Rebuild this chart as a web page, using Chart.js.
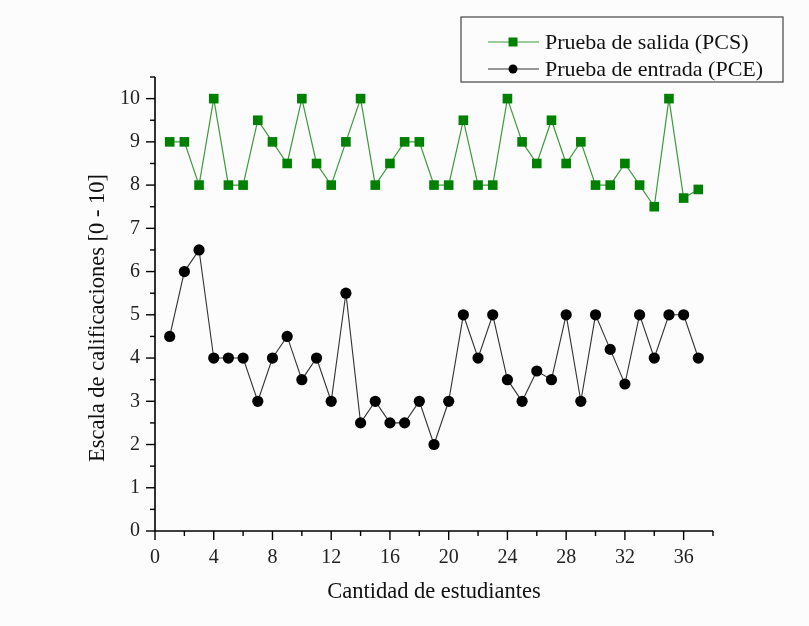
<!DOCTYPE html>
<html>
<head>
<meta charset="utf-8">
<script src="https://cdn.jsdelivr.net/npm/chart.js@4/dist/chart.umd.min.js"></script>
<style>
  html, body { margin: 0; padding: 0; background: #fcfcfc; }
  #wrap { width: 809px; height: 626px; }
</style>
</head>
<body>
<div id="wrap"><canvas id="grafico" width="809" height="626"></canvas></div>
<script>
const estudiantes = [1, 2, 3, 4, 5, 6, 7, 8, 9, 10, 11, 12, 13, 14, 15, 16, 17, 18, 19,
  20, 21, 22, 23, 24, 25, 26, 27, 28, 29, 30, 31, 32, 33, 34, 35, 36, 37];
const pcs = [9, 9, 8, 10, 8, 8, 9.5, 9, 8.5, 10, 8.5, 8, 9, 10, 8, 8.5, 9, 9, 8,
  8, 9.5, 8, 8, 10, 9, 8.5, 9.5, 8.5, 9, 8, 8, 8.5, 8, 7.5, 10, 7.7, 7.9];
const pce = [4.5, 6, 6.5, 4, 4, 4, 3, 4, 4.5, 3.5, 4, 3, 5.5, 2.5, 3, 2.5, 2.5, 3, 2,
  3, 5, 4, 5, 3.5, 3, 3.7, 3.5, 5, 3, 5, 4.2, 3.4, 5, 4, 5, 5, 4];
const xMajor = 4;
const yMajor = 1;
const tituloY = "Escala de calificaciones [0 - 10]";

const fuente = "'Liberation Serif', 'Times New Roman', serif";

const fondo = {
  id: "fondo",
  beforeDraw(chart) {
    const ctx = chart.ctx;
    ctx.save();
    ctx.fillStyle = "#fcfcfc";
    ctx.fillRect(0, 0, chart.width, chart.height);
    ctx.restore();
  }
};

// ejes con marcas mayores y menores, y titulo vertical
const ejes = {
  id: "ejes",
  afterDraw(chart) {
    const { ctx, chartArea: a, scales: { x, y } } = chart;
    ctx.save();
    ctx.strokeStyle = "#000";
    ctx.lineWidth = 1.6;
    ctx.beginPath();
    ctx.moveTo(a.left, a.top);
    ctx.lineTo(a.left, a.bottom);
    ctx.lineTo(a.right, a.bottom);
    ctx.stroke();
    ctx.lineWidth = 1.4;
    x.ticks.forEach(t => {
      const px = x.getPixelForValue(t.value);
      const len = t.value % xMajor === 0 ? 9 : 5;
      ctx.beginPath();
      ctx.moveTo(px, a.bottom);
      ctx.lineTo(px, a.bottom + len);
      ctx.stroke();
    });
    y.ticks.forEach(t => {
      const py = y.getPixelForValue(t.value);
      const len = t.value % yMajor === 0 ? 9 : 5;
      ctx.beginPath();
      ctx.moveTo(a.left, py);
      ctx.lineTo(a.left - len, py);
      ctx.stroke();
    });
    ctx.translate(98, 318);
    ctx.rotate(-Math.PI / 2);
    ctx.font = "22.5px " + fuente;
    ctx.fillStyle = "#111";
    ctx.textAlign = "center";
    ctx.textBaseline = "middle";
    ctx.fillText(tituloY, 0, 0);
    ctx.restore();
  }
};

const leyenda = {
  id: "leyenda",
  afterDraw(chart) {
    const ctx = chart.ctx;
    const box = { x: 461, y: 17, w: 322, h: 65 };
    ctx.save();
    ctx.fillStyle = "#fcfcfc";
    ctx.fillRect(box.x, box.y, box.w, box.h);
    ctx.strokeStyle = "#444";
    ctx.lineWidth = 1.2;
    ctx.strokeRect(box.x, box.y, box.w, box.h);
    ctx.font = "22px " + fuente;
    ctx.textBaseline = "middle";
    const filas = [42, 69];
    chart.data.datasets.forEach((ds, i) => {
      const yy = filas[i];
      ctx.strokeStyle = ds.borderColor;
      ctx.lineWidth = ds.borderWidth;
      ctx.beginPath();
      ctx.moveTo(488, yy);
      ctx.lineTo(539, yy);
      ctx.stroke();
      ctx.fillStyle = ds.pointBackgroundColor;
      if (ds.pointStyle === "rect") {
        ctx.fillRect(513 - 4.5, yy - 4.5, 9, 9);
      } else {
        ctx.beginPath();
        ctx.arc(513, yy, 4.5, 0, Math.PI * 2);
        ctx.fill();
      }
      ctx.fillStyle = "#111";
      ctx.fillText(ds.label, 545, yy + 1);
    });
    ctx.restore();
  }
};

new Chart(document.getElementById("grafico"), {
  type: "scatter",
  data: {
    datasets: [
      {
        label: "Prueba de salida (PCS)",
        data: estudiantes.map((e, i) => ({ x: e, y: pcs[i] })),
        showLine: true,
        borderColor: "#3c9a3c",
        borderWidth: 1.2,
        pointStyle: "rect",
        pointRadius: 6.8,
        pointBackgroundColor: "#008000",
        pointBorderColor: "#008000",
        pointBorderWidth: 0,
        clip: false
      },
      {
        label: "Prueba de entrada (PCE)",
        data: estudiantes.map((e, i) => ({ x: e, y: pce[i] })),
        showLine: true,
        borderColor: "#333",
        borderWidth: 1.1,
        pointStyle: "circle",
        pointRadius: 5.6,
        pointBackgroundColor: "#000",
        pointBorderColor: "#000",
        pointBorderWidth: 0,
        clip: false
      }
    ]
  },
  options: {
    responsive: false,
    animation: false,
    layout: { padding: { left: 0, top: 77, right: 96, bottom: 0 } },
    plugins: {
      legend: { display: false },
      tooltip: { enabled: false }
    },
    scales: {
      x: {
        type: "linear",
        min: 0,
        max: 38,
        afterFit(scale) { scale.height = 95; },
        grid: { display: false },
        border: { display: false },
        ticks: {
          stepSize: 2,
          autoSkip: false,
          maxRotation: 0,
          padding: 7,
          color: "#222",
          font: { family: fuente, size: 20 },
          callback: v => (v % xMajor === 0 && v <= 36 ? v : "")
        },
        title: {
          display: true,
          text: "Cantidad de estudiantes",
          color: "#111",
          font: { family: fuente, size: 22.5 },
          padding: { top: 0, bottom: 20 }
        }
      },
      y: {
        type: "linear",
        min: 0,
        max: 10.5,
        afterFit(scale) { scale.width = 155; },
        grid: { display: false },
        border: { display: false },
        ticks: {
          stepSize: 0.5,
          autoSkip: false,
          padding: 7,
          color: "#222",
          font: { family: fuente, size: 20 },
          callback: v => (v % yMajor === 0 && v <= 10 ? v : "")
        },
        title: { display: false }
      }
    }
  },
  plugins: [fondo, ejes, leyenda]
});
</script>
</body>
</html>
